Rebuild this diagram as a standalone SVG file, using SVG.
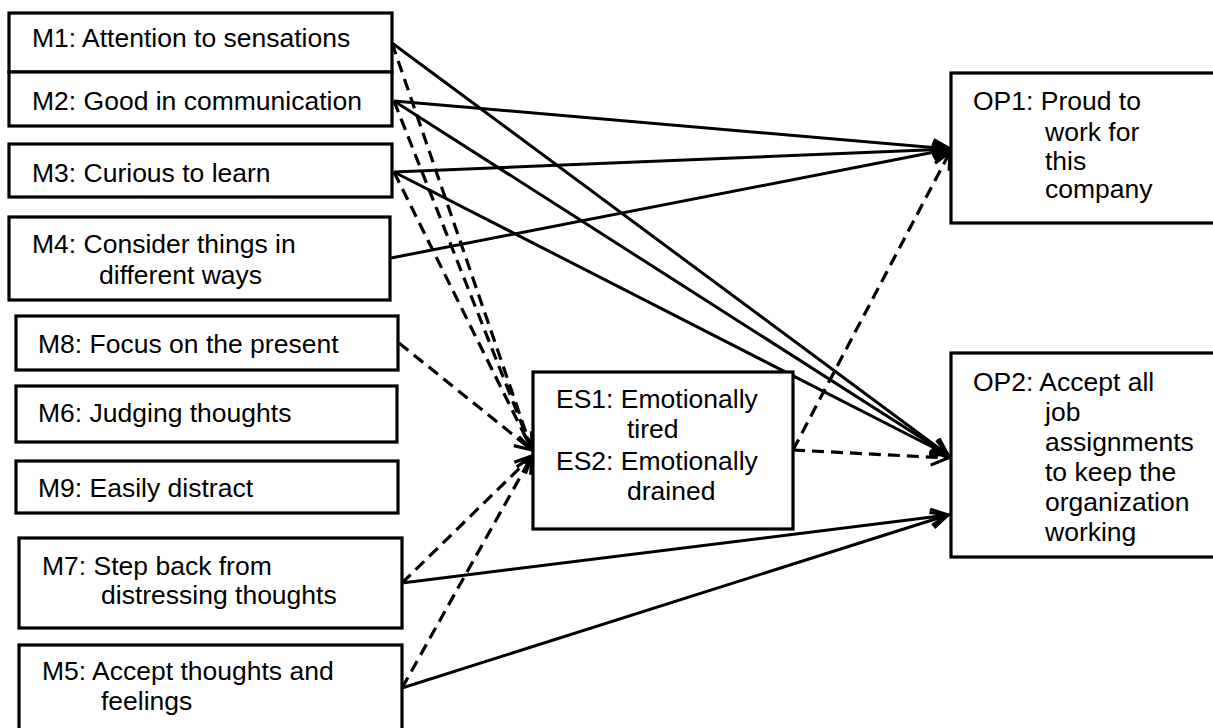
<svg xmlns="http://www.w3.org/2000/svg" width="1213" height="728" viewBox="0 0 1213 728">
<style>
.box{fill:#fff;stroke:#000;stroke-width:3.2}
.t{font-family:"Liberation Sans",Arial,sans-serif;font-size:26.5px;fill:#000}
.s{fill:none;stroke:#000;stroke-width:3;marker-end:url(#ah)}
.d{fill:none;stroke:#000;stroke-width:3.2;stroke-dasharray:12 7;marker-end:url(#ah)}
</style>
<defs>
<marker id="ah" markerUnits="userSpaceOnUse" markerWidth="26" markerHeight="26" viewBox="0 0 26 26" refX="22" refY="13" orient="auto">
<path d="M5,5 L22,13 L5,21" fill="none" stroke="#000" stroke-width="3.2" stroke-dasharray="none"/>
</marker>
</defs>
<rect width="1213" height="728" fill="#fff"/>
<g id="connectors">
<line class="s" x1="392" y1="43" x2="948" y2="455"/>
<line class="s" x1="394" y1="101" x2="950" y2="149"/>
<line class="s" x1="394" y1="101" x2="948" y2="455"/>
<line class="s" x1="394" y1="172" x2="950" y2="149"/>
<line class="s" x1="394" y1="172" x2="948" y2="455"/>
<line class="s" x1="391" y1="258" x2="950" y2="149"/>
<line class="s" x1="402" y1="583" x2="948" y2="515"/>
<line class="s" x1="402" y1="688" x2="948" y2="515"/>
<line class="d" x1="392" y1="43" x2="532" y2="450"/>
<line class="d" x1="394" y1="101" x2="532" y2="450"/>
<line class="d" x1="394" y1="172" x2="532" y2="450"/>
<line class="d" x1="399" y1="343" x2="532" y2="450"/>
<line class="d" x1="402" y1="583" x2="532" y2="456"/>
<line class="d" x1="402" y1="688" x2="532" y2="456"/>
<line class="d" x1="793" y1="450" x2="950" y2="152"/>
<line class="d" x1="793" y1="450" x2="948" y2="458"/>
</g>
<g id="M1"><rect class="box" x="9" y="13" width="383" height="59"/><text class="t" x="32" y="47">M1: Attention to sensations</text></g>
<g id="M2"><rect class="box" x="9" y="72" width="383" height="54"/><text class="t" x="32" y="110">M2: Good in communication</text></g>
<g id="M3"><rect class="box" x="9" y="144" width="383" height="53"/><text class="t" x="32" y="182">M3: Curious to learn</text></g>
<g id="M4"><rect class="box" x="9" y="217" width="381" height="83"/><text class="t" x="32" y="253">M4: Consider things in</text><text class="t" x="99" y="284">different ways</text></g>
<g id="M8"><rect class="box" x="16" y="316" width="382" height="54"/><text class="t" x="38" y="353">M8: Focus on the present</text></g>
<g id="M6"><rect class="box" x="16" y="386" width="381" height="56"/><text class="t" x="38" y="422">M6: Judging thoughts</text></g>
<g id="M9"><rect class="box" x="16" y="461" width="382" height="52"/><text class="t" x="38" y="497">M9: Easily distract</text></g>
<g id="M7"><rect class="box" x="19" y="538" width="383" height="90"/><text class="t" x="42" y="575">M7: Step back from</text><text class="t" x="101" y="604">distressing thoughts</text></g>
<g id="M5"><rect class="box" x="19" y="645" width="383" height="90"/><text class="t" x="42" y="680">M5: Accept thoughts and</text><text class="t" x="101" y="710">feelings</text></g>
<g id="ES"><rect class="box" x="533" y="372" width="260" height="157"/><text class="t" x="556" y="408">ES1: Emotionally</text><text class="t" x="627" y="438">tired</text><text class="t" x="556" y="470">ES2: Emotionally</text><text class="t" x="627" y="500">drained</text></g>
<g id="OP1"><rect class="box" x="951" y="73" width="265" height="150"/><text class="t" x="973" y="110">OP1: Proud to</text><text class="t" x="1045" y="141">work for</text><text class="t" x="1045" y="170">this</text><text class="t" x="1045" y="198">company</text></g>
<g id="OP2"><rect class="box" x="951" y="353" width="265" height="204"/><text class="t" x="973" y="391">OP2: Accept all</text><text class="t" x="1045" y="421">job</text><text class="t" x="1045" y="451">assignments</text><text class="t" x="1045" y="481">to keep the</text><text class="t" x="1045" y="511">organization</text><text class="t" x="1045" y="541">working</text></g>
</svg>
